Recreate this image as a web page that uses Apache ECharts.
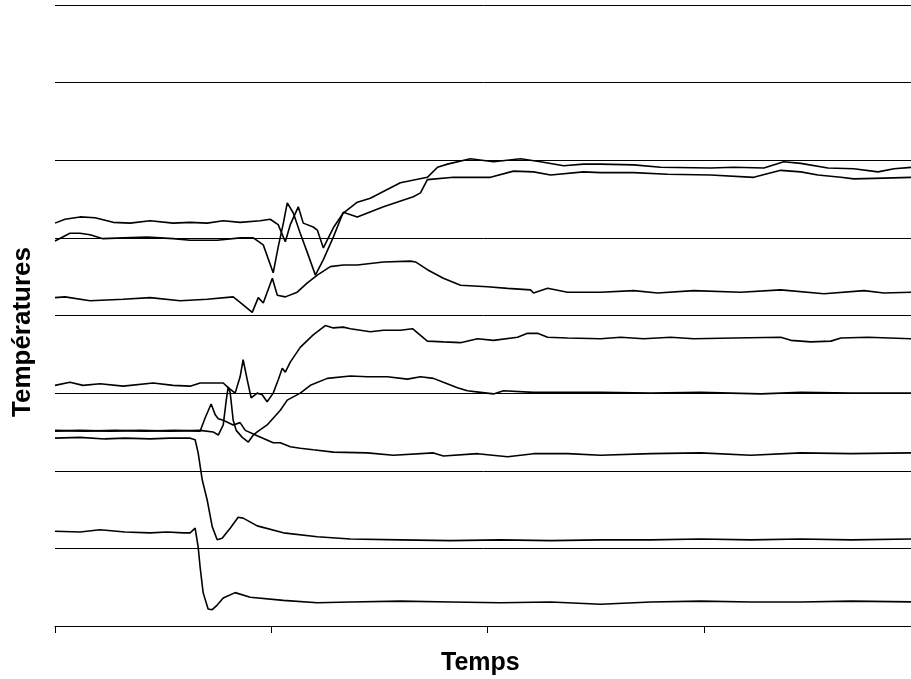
<!DOCTYPE html>
<html>
<head>
<meta charset="UTF-8">
<title>Températures</title>
<script src="https://cdn.jsdelivr.net/npm/echarts@6/dist/echarts.min.js"></script>
<style>
  html, body { margin: 0; padding: 0; background: #fff; }
  #main { width: 911px; height: 679px; }
</style>
</head>
<body>
<div id="main"></div>
<script>
// temps (unités arbitraires) et températures
var xTicks = [0, 100, 200, 300, 400];
var yTicks = [0, 10, 20, 30, 40, 50, 60, 70, 80];

var serieA = [[0,51.9],[4.6,52.4],[11.6,52.7],[18.5,52.6],[26.9,52.0],[34.7,51.9],[44,52.2],[54.6,51.9],[62.5,52.0],[70.4,51.9],[77.8,52.2],[85.6,52.0],[94.9,52.2],[99.5,52.4],[103.2,51.7],[106.5,49.5],[108.8,51.7],[112.5,54.0],[114.8,51.9],[119.4,51.4],[121.3,51.0],[124.1,48.7],[128.7,51.3],[133.3,53.2],[139.8,54.6],[145.8,55.1],[159.7,57.1],[172.2,57.8],[176.9,59.1],[181.5,59.5],[192.1,60.2],[202.8,59.8],[215.3,60.2],[224.5,59.8],[235.2,59.3],[244.4,59.5],[252.3,59.5],[267.6,59.4],[280.1,59.1],[303.2,59.0],[313.9,59.1],[327.8,59.0],[337,59.8],[344.9,59.6],[357.4,59.0],[369.4,58.9],[380.6,58.5],[388,58.9],[396.3,59.1]];

var serieB = [[0,49.6],[6.9,50.6],[11.6,50.6],[16.2,50.4],[22.2,49.9],[31.5,50.0],[42.6,50.1],[54.6,49.9],[62.5,49.7],[75,49.7],[85.6,50.0],[91.7,50.0],[96.3,49.1],[100.9,45.5],[103.2,48.8],[105.6,51.9],[107.4,54.5],[110.2,53.2],[113.4,50.6],[116.7,48.1],[120.4,45.2],[124.1,47.2],[128.7,50.1],[133.3,53.3],[139.8,52.7],[151.9,54.0],[165.7,55.3],[169,55.8],[172.2,57.5],[184.3,57.8],[201.4,57.8],[212,58.6],[221.3,58.5],[229.2,58.1],[244.4,58.5],[252.3,58.4],[267.6,58.4],[283.3,58.2],[303.2,58.1],[323.1,57.8],[335.6,58.7],[344.9,58.5],[352.8,58.1],[363.4,57.8],[369.4,57.6],[383.3,57.7],[396.3,57.8]];

var serieC = [[0,42.3],[4.6,42.4],[16.2,41.9],[31.5,42.1],[44,42.3],[57.9,41.9],[70.4,42.1],[82.4,42.4],[85.6,41.7],[91.2,40.4],[94,42.3],[96.3,41.6],[100.5,44.8],[102.8,42.6],[106.5,42.4],[112,43.0],[116.7,44.2],[121.3,45.2],[127.3,46.3],[133.3,46.5],[139.8,46.5],[151.9,46.9],[164.4,47.0],[166.7,46.9],[172.2,45.9],[179.6,44.8],[187.5,43.9],[200,43.7],[209.3,43.5],[219.9,43.3],[221.3,42.9],[227.8,43.5],[237,43.0],[252.3,43.0],[267.6,43.2],[278.7,42.9],[295.4,43.2],[317.1,43.0],[335.6,43.3],[355.6,42.8],[374.1,43.2],[383.3,42.9],[396.3,43.0]];

var serieD = [[0,31.0],[6.9,31.4],[13,31.0],[20.8,31.2],[31.5,30.9],[45.4,31.3],[54.6,31.0],[62.5,30.9],[67.1,31.3],[77.8,31.3],[80.1,30.7],[83.3,30.0],[85.6,32.1],[87,34.3],[88.9,31.7],[90.7,29.4],[93.5,30.0],[95.8,29.8],[98.1,28.9],[100.9,30.0],[103.2,31.7],[105.1,33.2],[106.5,32.7],[108.8,34.0],[113.4,35.9],[119.4,37.5],[125,38.7],[128.7,38.4],[133.3,38.5],[136.6,38.3],[145.8,37.9],[151.9,38.1],[159.7,38.1],[165.3,38.3],[172.2,36.7],[179.6,36.6],[187.5,36.5],[195.4,37.0],[202.8,36.8],[213.9,37.2],[218.5,37.7],[223.1,37.7],[227.8,37.2],[237,37.1],[252.3,37.0],[261.6,37.2],[272.2,37.0],[284.7,37.2],[295.4,37.0],[313.9,37.1],[335.6,37.2],[340.3,36.8],[349.5,36.6],[358.8,36.7],[363.4,37.1],[375.9,37.2],[396.3,37.0]];

var serieE = [[0,25.1],[11.6,25.2],[25.5,25.1],[39.4,25.2],[53.2,25.1],[67.1,25.2],[73.1,25.0],[75.5,24.6],[77.8,25.9],[79.2,29.1],[80.1,30.8],[81,30.1],[82.4,26.5],[83.8,25.2],[86.6,24.3],[89.4,23.7],[91.7,24.6],[93.5,25.0],[98.1,25.9],[104.2,27.8],[107.4,29.1],[113.4,30.0],[118.1,31.0],[125.9,31.9],[136.6,32.2],[144.4,32.1],[153.7,32.1],[163,31.8],[169,32.1],[175,31.9],[179.6,31.4],[186.1,30.7],[190.7,30.3],[196.8,30.1],[202.8,29.9],[207.4,30.3],[221.3,30.1],[252.3,30.1],[275.5,30.0],[298.6,30.1],[326.4,29.9],[344.9,30.1],[368.1,30.0],[396.3,30.0]];

var serieF = [[0,25.2],[13.9,25.1],[27.8,25.2],[41.7,25.1],[55.6,25.2],[67.1,25.1],[69.4,26.8],[72.2,28.6],[74.1,27.2],[75.5,26.7],[77.8,26.5],[82.4,25.9],[85.6,26.2],[88,25.2],[93.5,24.5],[100.9,23.6],[104.2,23.6],[108.8,23.1],[113.4,22.9],[119.4,22.7],[128.7,22.4],[144.4,22.3],[156.5,22.0],[175,22.3],[179.6,21.9],[195.4,22.2],[209.3,21.8],[221.3,22.2],[237,22.2],[252.3,22.0],[275.5,22.2],[298.6,22.3],[321.8,22.0],[344.9,22.3],[368.1,22.2],[396.3,22.3]];

var serieG = [[0,24.2],[11.6,24.3],[23.1,24.1],[32.4,24.2],[44,24.1],[53.2,24.2],[62.5,24.2],[64.8,24.0],[66.2,22.3],[68.1,18.8],[70.4,16.2],[72.7,12.8],[75,11.1],[77.3,11.3],[81,12.6],[84.7,14.0],[87,13.9],[93.5,12.9],[105.6,12.0],[121.3,11.5],[136.6,11.2],[159.7,11.1],[182.9,11.0],[206,11.1],[229.2,11.0],[252.3,11.1],[275.5,11.1],[298.6,11.2],[321.8,11.1],[344.9,11.2],[368.1,11.1],[396.3,11.2]];

var serieH = [[0,12.2],[11.6,12.1],[20.8,12.4],[32.4,12.1],[44,12.0],[51.9,12.1],[59.3,12.0],[62.5,12.0],[64.8,12.6],[66.2,10.2],[67.1,7.6],[68.5,4.3],[70.8,2.2],[72.7,2.1],[75,2.7],[77.8,3.6],[83.3,4.3],[90.3,3.7],[105.6,3.3],[121.3,3.0],[136.6,3.1],[159.7,3.2],[182.9,3.1],[206,3.0],[229.2,3.1],[252.3,2.8],[275.5,3.1],[298.6,3.2],[321.8,3.1],[344.9,3.1],[368.1,3.2],[396.3,3.1]];

var series = [serieA, serieB, serieC, serieD, serieE, serieF, serieG, serieH];

var myChart = echarts.init(document.getElementById('main'));

var option = {
    animation: false,
    backgroundColor: '#fff',
    // la zone de tracé dépasse le bord droit : la dernière graduation est coupée
    grid: { left: 55, top: 5, right: -9, bottom: 53, outerBoundsMode: 'none', containLabel: false },
    xAxis: {
        type: 'value',
        min: xTicks[0],
        max: xTicks[xTicks.length - 1],
        interval: xTicks[1] - xTicks[0],
        axisLine: { show: true, lineStyle: { color: '#000', width: 1 } },
        axisTick: { show: true, length: 7, lineStyle: { color: '#000', width: 1 } },
        axisLabel: { show: false },
        splitLine: { show: false }
    },
    yAxis: {
        type: 'value',
        min: yTicks[0],
        max: yTicks[yTicks.length - 1],
        interval: yTicks[1] - yTicks[0],
        axisLine: { show: false },
        axisTick: { show: false },
        axisLabel: { show: false },
        splitLine: { show: true, lineStyle: { color: '#000', width: 1 } }
    },
    graphic: [
        {
            type: 'text', left: 441, top: 651,
            style: { text: 'Temps', font: 'bold 25px "Liberation Sans", Arial, sans-serif', fill: '#000' }
        },
        {
            type: 'text', x: 23, y: 332, rotation: Math.PI / 2,
            style: { text: 'Températures', font: 'bold 26px "Liberation Sans", Arial, sans-serif',
                     fill: '#000', align: 'center', verticalAlign: 'middle' }
        }
    ],
    series: series.map(function (d) {
        return {
            type: 'line',
            data: d,
            symbol: 'none',
            lineStyle: { color: '#000', width: 1.6 },
            silent: true
        };
    })
};

myChart.setOption(option);
</script>
</body>
</html>
